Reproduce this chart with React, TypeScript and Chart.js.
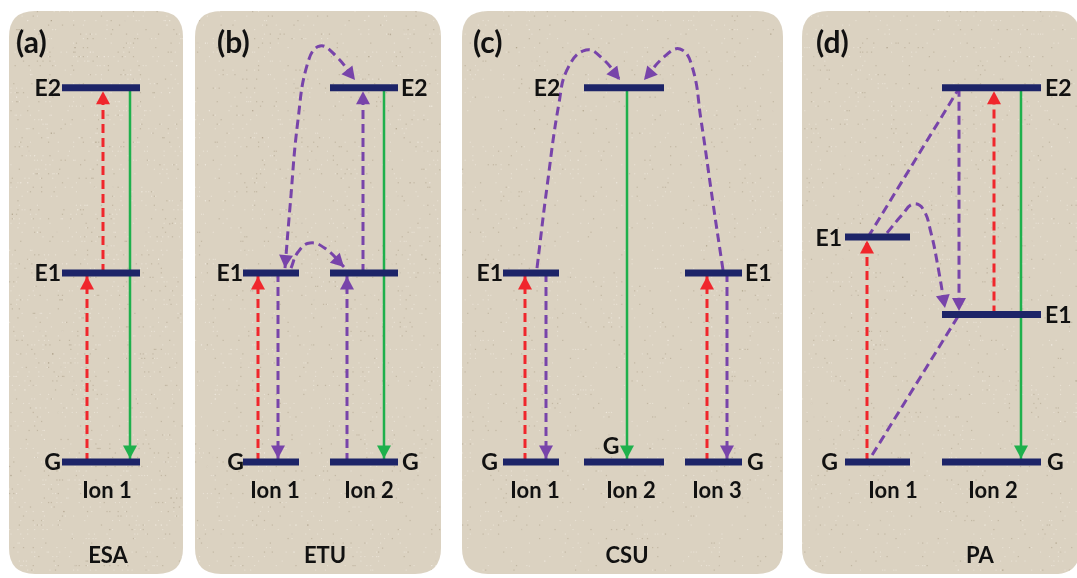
import React, { useEffect, useRef } from "react";
import { Chart, registerables } from "chart.js";

Chart.register(...registerables);

// ---------- data ----------
// Energy levels, in units of the G -> E1 gap
const G = 0;
const E1 = 1.0;
const E2 = 1.98;
const E1_PA_ION1 = 1.19;
const E1_PA_ION2 = 0.78;

// Panel headings and process names
const panelTags = ["(a)", "(b)", "(c)", "(d)"];
const panelProcess = ["ESA", "ETU", "CSU", "PA"];

// Energy level bars: [xStart, xEnd, energy]
const levelBars: [number, number, number][] = [
  // (a) ESA, ion 1
  [62, 140, E2], [62, 140, E1], [62, 140, G],
  // (b) ETU, ion 1 / ion 2
  [243, 299, E1], [243, 299, G],
  [330, 398, E2], [330, 398, E1], [330, 398, G],
  // (c) CSU, ion 1 / ion 2 / ion 3
  [503, 559, E1], [503, 559, G],
  [584, 664, E2], [584, 664, G],
  [685, 742, E1], [685, 742, G],
  // (d) PA, ion 1 / ion 2
  [845, 910, E1_PA_ION1], [845, 910, G],
  [942, 1041, E2], [942, 1041, E1_PA_ION2], [942, 1041, G],
];

// Excitation (red, dashed, upward): [x, from, to]
const pumpArrows: [number, number, number][] = [
  [87, G, E1], [103, E1, E2],
  [258, G, E1],
  [525, G, E1], [707, G, E1],
  [867, G, E1_PA_ION1], [994, E1_PA_ION2, E2],
];

// Energy transfer (purple, dashed, straight vertical): [x, from, to]
const transferArrows: [number, number, number][] = [
  [278, E1, G], [347, G, E1], [363, E1, E2],
  [546, E1, G], [727, E1, G],
  [959, E2, E1_PA_ION2],
];

// Emission (green, solid, downward): [x, from, to]
const emissionArrows: [number, number, number][] = [
  [130, E2, G], [384, E2, G], [627, E2, G], [1021, E2, G],
];

// Energy transfer paths (purple, dashed, curved or slanted)
const etuLongPath: [number, number][] = [[285, 1.026], [290, 1.349], [298, 1.81], [308, 2.116], [320, 2.201], [336, 2.148], [355, 2.021]];
const etuShortPath: [number, number][] = [[291, 1.026], [298, 1.111], [310, 1.159], [326, 1.127], [344, 1.032]];
const csuLeftPath: [number, number][] = [[537, 1.026], [547, 1.455], [559, 1.899], [568, 2.085], [586, 2.18], [603, 2.132], [620, 2.021]];
const csuRightPath: [number, number][] = [[723, 1.016], [713, 1.37], [701, 1.81], [692, 2.095], [680, 2.185], [664, 2.143], [644, 2.021]];
const paCrossPath: [number, number][] = [[887, 1.212], [902, 1.307], [913, 1.365], [923, 1.339], [931, 1.212], [938, 1.032], [945, 0.815]];
const paUpLine: [number, number][] = [[868, 1.19], [958, 1.968]];
const paDownLine: [number, number][] = [[958, 0.77], [869, 0.01]];

// Level labels: [text, anchorX, energy, align]
const levelLabels: [string, number, number, CanvasTextAlign][] = [
  ["E2", 61, E2, "right"], ["E1", 61, E1, "right"], ["G", 61, G, "right"],
  ["E1", 243, E1, "right"], ["G", 244, G, "right"], ["E2", 401, E2, "left"], ["G", 402, G, "left"],
  ["E1", 503, E1, "right"], ["G", 498, G, "right"], ["E2", 547, E2, "center"], ["G", 611, 0.085, "center"],
  ["E1", 745, E1, "left"], ["G", 747, G, "left"],
  ["E1", 842, E1_PA_ION1, "right"], ["G", 838, G, "right"],
  ["E2", 1045, E2, "left"], ["E1", 1045, E1_PA_ION2, "left"], ["G", 1047, G, "left"],
];

// Ion labels under the ground states
const ionLabelText = ["Ion 1", "Ion 1", "Ion 2", "Ion 1", "Ion 2", "Ion 3", "Ion 1", "Ion 2"];
const ionLabelX = [107, 275, 369, 535, 631, 717, 893, 993];

// ---------- layout / style ----------
const W = 1077;
const H = 578;
const panelLeft = [9, 195, 462, 802];
const panelRight = [183, 441, 783, 1080];
const panelTop = 11;
const panelBottom = 574;
const panelTagX = [16, 217, 473, 816];
const processX = [108, 325, 627, 980];

const NAVY = "#1d2468";
const RED = "#f0262c";
const PURPLE = "#7844aa";
const GREEN = "#1eb04c";
const PANEL = "#dbd2c1";
const FONT = "Lato, 'Open Sans', sans-serif";

// y scale: G at 462px, 189px per energy unit
const Y_MIN = (462 - H) / 189;
const Y_MAX = 462 / 189;

function roundRect(ctx: CanvasRenderingContext2D, x: number, y: number, w: number, h: number, r: number) {
  ctx.beginPath();
  ctx.moveTo(x + r, y);
  ctx.lineTo(x + w - r, y);
  ctx.quadraticCurveTo(x + w, y, x + w, y + r);
  ctx.lineTo(x + w, y + h - r);
  ctx.quadraticCurveTo(x + w, y + h, x + w - r, y + h);
  ctx.lineTo(x + r, y + h);
  ctx.quadraticCurveTo(x, y + h, x, y + h - r);
  ctx.lineTo(x, y + r);
  ctx.quadraticCurveTo(x, y, x + r, y);
  ctx.closePath();
}

const panelPlugin = {
  id: "panels",
  beforeDraw(chart: any) {
    const ctx: CanvasRenderingContext2D = chart.ctx;
    const xs = chart.scales.x;
    ctx.save();
    ctx.fillStyle = "#ffffff";
    ctx.fillRect(0, 0, chart.width, chart.height);
    for (let i = 0; i < panelLeft.length; i++) {
      const l = xs.getPixelForValue(panelLeft[i]);
      const r = xs.getPixelForValue(panelRight[i]);
      roundRect(ctx, l, panelTop, r - l, panelBottom - panelTop, 26);
      ctx.fillStyle = PANEL;
      ctx.fill();
      // light paper grain (deterministic)
      ctx.save();
      ctx.clip();
      let s = 12345 + i * 977;
      for (let k = 0; k < 1800; k++) {
        s = (s * 1103515245 + 12345) & 0x7fffffff;
        const px = l + (s % 1000) / 1000 * (r - l);
        s = (s * 1103515245 + 12345) & 0x7fffffff;
        const py = panelTop + (s % 1000) / 1000 * (panelBottom - panelTop);
        ctx.fillStyle = k % 3 === 0 ? "rgba(150,135,110,0.35)" : "rgba(245,240,230,0.5)";
        ctx.fillRect(px, py, 1.2, 1.2);
      }
      ctx.restore();
    }
    ctx.restore();
  },
};

function drawHead(ctx: CanvasRenderingContext2D, tx: number, ty: number, fx: number, fy: number, inset: number, color: string) {
  let dx = tx - fx;
  let dy = ty - fy;
  const len = Math.hypot(dx, dy) || 1;
  dx /= len;
  dy /= len;
  const tipX = tx - dx * inset;
  const tipY = ty - dy * inset;
  const L = 13;
  const Wd = 14;
  const bx = tipX - dx * L;
  const by = tipY - dy * L;
  ctx.beginPath();
  ctx.moveTo(tipX, tipY);
  ctx.lineTo(bx - dy * Wd / 2, by + dx * Wd / 2);
  ctx.lineTo(bx + dy * Wd / 2, by - dx * Wd / 2);
  ctx.closePath();
  ctx.fillStyle = color;
  ctx.fill();
}

const arrowPlugin = {
  id: "arrowHeads",
  afterDatasetsDraw(chart: any) {
    const ctx: CanvasRenderingContext2D = chart.ctx;
    chart.data.datasets.forEach((ds: any, i: number) => {
      if (!ds.arrowEnd && !ds.arrowStart) return;
      const pts = chart.getDatasetMeta(i).data;
      if (pts.length < 2) return;
      const color = ds.borderColor;
      const inset = ds.tipInset || 0;
      if (ds.arrowEnd) {
        const p = pts[pts.length - 1];
        const q = pts[pts.length - 2];
        let fx = q.x, fy = q.y;
        if (p.cp1x !== undefined && Math.hypot(p.cp1x - p.x, p.cp1y - p.y) > 1) {
          fx = p.cp1x; fy = p.cp1y;
        }
        drawHead(ctx, p.x, p.y, fx, fy, inset, color);
      }
      if (ds.arrowStart) {
        const p = pts[0];
        const q = pts[1];
        let fx = q.x, fy = q.y;
        if (p.cp2x !== undefined && Math.hypot(p.cp2x - p.x, p.cp2y - p.y) > 1) {
          fx = p.cp2x; fy = p.cp2y;
        }
        drawHead(ctx, p.x, p.y, fx, fy, inset, color);
      }
    });
  },
};

const textPlugin = {
  id: "texts",
  afterDraw(chart: any) {
    const ctx: CanvasRenderingContext2D = chart.ctx;
    const xs = chart.scales.x;
    const ys = chart.scales.y;
    ctx.save();
    ctx.fillStyle = "#111111";
    ctx.textBaseline = "middle";
    ctx.font = `bold 23px ${FONT}`;
    levelLabels.forEach(([t, x, e, align]) => {
      ctx.textAlign = align;
      ctx.fillText(t, xs.getPixelForValue(x), ys.getPixelForValue(e) + 1);
    });
    const gy = ys.getPixelForValue(G);
    ctx.textAlign = "center";
    ctx.font = `bold 22px ${FONT}`;
    ionLabelText.forEach((t, k) => {
      ctx.fillText(t, xs.getPixelForValue(ionLabelX[k]), gy + 29);
    });
    panelProcess.forEach((t, k) => {
      ctx.fillText(t, xs.getPixelForValue(processX[k]), gy + 94);
    });
    ctx.textAlign = "left";
    ctx.font = `bold 30px ${FONT}`;
    panelTags.forEach((t, k) => {
      ctx.fillText(t, xs.getPixelForValue(panelTagX[k]), 43);
    });
    ctx.restore();
  },
};

function seg(x: number, from: number, to: number) {
  return [{ x, y: from }, { x, y: to }];
}
function path(p: [number, number][]) {
  return p.map(([x, y]) => ({ x, y }));
}

export default function App() {
  const ref = useRef<HTMLCanvasElement | null>(null);

  useEffect(() => {
    if (!ref.current) return;
    const base = { pointRadius: 0, pointHoverRadius: 0, fill: false, tension: 0, order: 1 };
    const datasets: any[] = [];

    levelBars.forEach(([x1, x2, e]) => {
      datasets.push({ ...base, data: [{ x: x1, y: e }, { x: x2, y: e }], borderColor: NAVY, borderWidth: 7, borderCapStyle: "butt", order: 0 });
    });
    pumpArrows.forEach(([x, a, b]) => {
      datasets.push({ ...base, data: seg(x, a, b), borderColor: RED, borderWidth: 3, borderDash: [9, 5], arrowEnd: true, tipInset: 3.5 });
    });
    transferArrows.forEach(([x, a, b]) => {
      datasets.push({ ...base, data: seg(x, a, b), borderColor: PURPLE, borderWidth: 3, borderDash: [9, 5], arrowEnd: true, tipInset: 3.5 });
    });
    emissionArrows.forEach(([x, a, b]) => {
      datasets.push({ ...base, data: seg(x, a, b), borderColor: GREEN, borderWidth: 2.5, arrowEnd: true, tipInset: 3.5 });
    });
    const curved = { ...base, borderColor: PURPLE, borderWidth: 3, borderDash: [9, 5], tension: 0.45 };
    datasets.push({ ...curved, data: path(etuLongPath), arrowEnd: true, arrowStart: true });
    datasets.push({ ...curved, data: path(etuShortPath), arrowEnd: true });
    datasets.push({ ...curved, data: path(csuLeftPath), arrowEnd: true });
    datasets.push({ ...curved, data: path(csuRightPath), arrowEnd: true });
    datasets.push({ ...curved, data: path(paCrossPath), arrowEnd: true });
    datasets.push({ ...curved, tension: 0, data: path(paUpLine) });
    datasets.push({ ...curved, tension: 0, data: path(paDownLine) });

    const chart = new Chart(ref.current, {
      type: "line",
      data: { datasets },
      options: {
        animation: false,
        responsive: false,
        events: [],
        layout: { padding: 0 },
        plugins: { legend: { display: false }, tooltip: { enabled: false } },
        scales: {
          x: { type: "linear", min: 0, max: W, display: false },
          y: { type: "linear", min: Y_MIN, max: Y_MAX, display: false },
        },
      },
      plugins: [panelPlugin, arrowPlugin, textPlugin],
    } as any);
    return () => chart.destroy();
  }, []);

  return (
    <div style={{ position: "absolute", left: 0, top: 0, width: W, height: H, background: "#fff" }}>
      <canvas ref={ref} width={W} height={H} />
    </div>
  );
}
